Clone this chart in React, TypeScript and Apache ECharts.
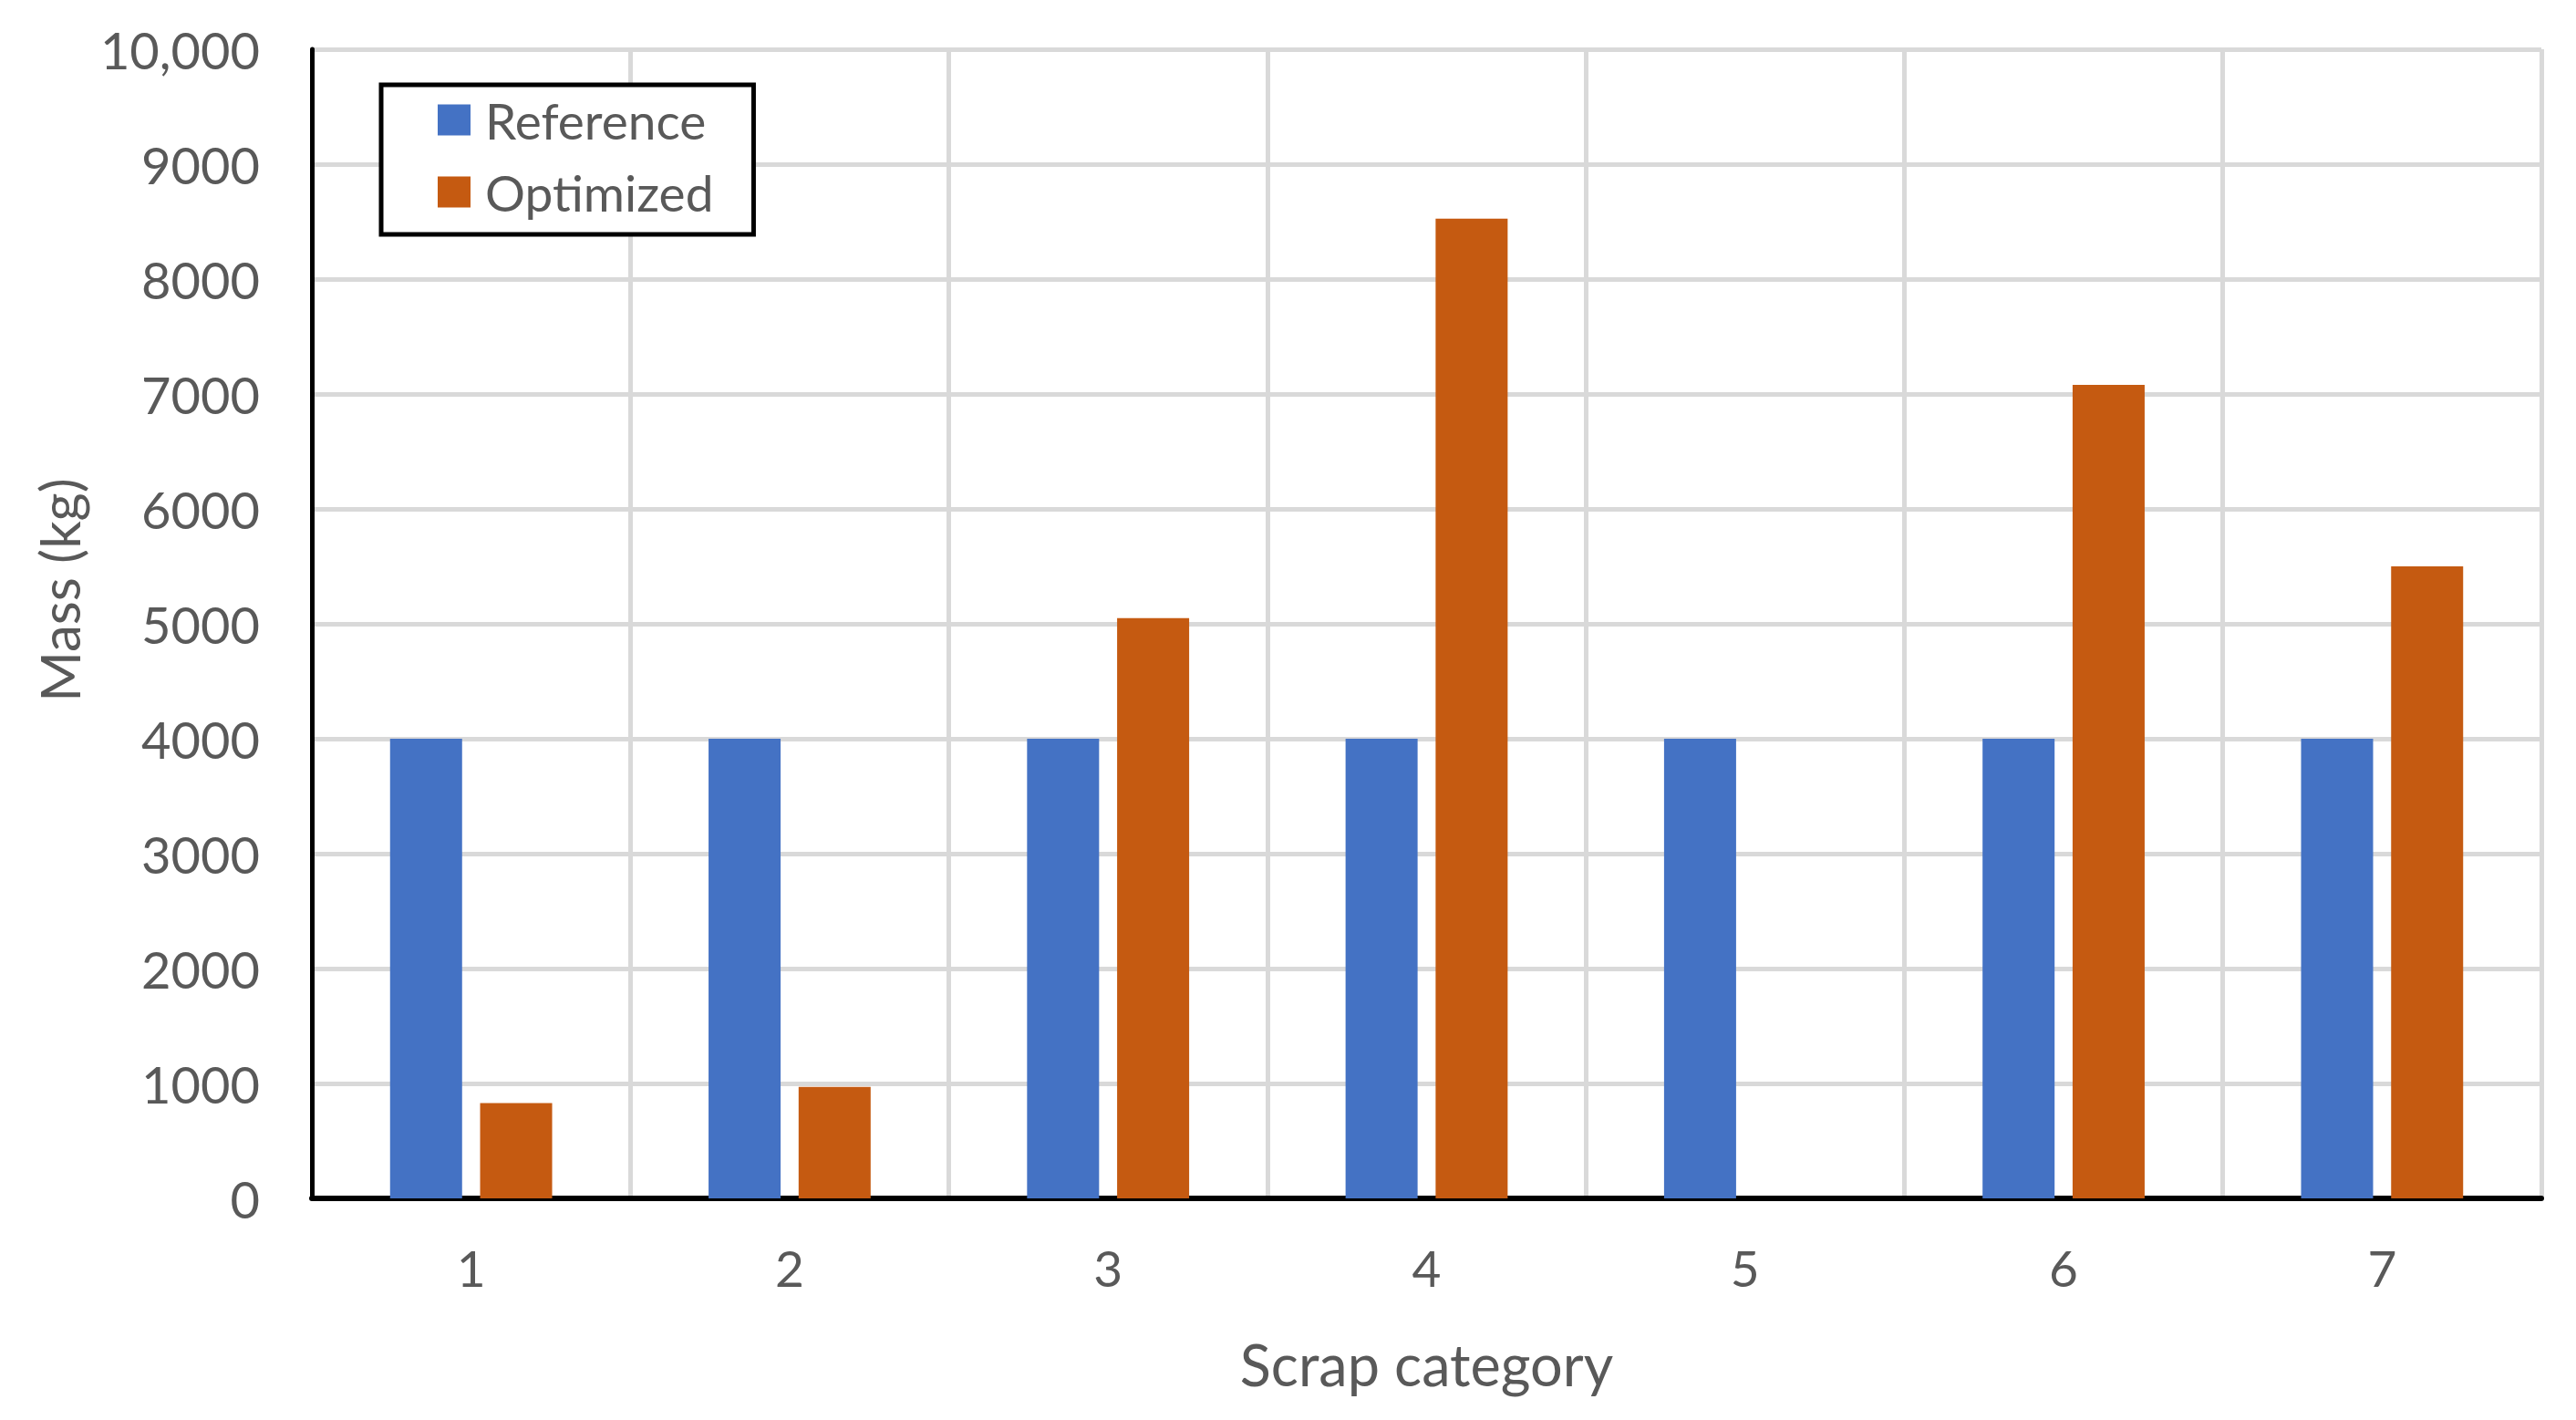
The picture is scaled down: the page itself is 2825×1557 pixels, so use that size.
import React, { useEffect, useRef } from "react";
import * as echarts from "echarts";

const categories = ["1", "2", "3", "4", "5", "6", "7"];
const referenceValues = [4000, 4000, 4000, 4000, 4000, 4000, 4000];
const optimizedValues = [830, 970, 5050, 8525, 0, 7080, 5500];
const seriesNames = ["Reference", "Optimized"];
const yAxisTitle = "Mass (kg)";
const xAxisTitle = "Scrap category";

const FONT = "Lato, 'Open Sans', sans-serif";
const TEXT = "#595959";

export default function App() {
  const ref = useRef<HTMLDivElement>(null);
  useEffect(() => {
    document.body.style.margin = "0";
    const chart = echarts.init(ref.current!, null, { renderer: "svg" });
    chart.setOption({
      animation: false,
      backgroundColor: "#ffffff",
      textStyle: { fontFamily: FONT, color: TEXT },
      grid: { left: 342, top: 54, right: 38, bottom: 243, containLabel: false },
      legend: {
        orient: "vertical",
        left: 418,
        top: 93,
        padding: [11, 44, 19, 62],
        itemWidth: 36,
        itemHeight: 34,
        itemGap: 24,
        icon: "rect",
        backgroundColor: "#ffffff",
        borderColor: "#000000",
        borderWidth: 5,
        borderRadius: 0,
        textStyle: { fontFamily: FONT, fontSize: 55, color: TEXT, lineHeight: 40, padding: [0, 0, 0, 11] },
        data: seriesNames,
      },
      xAxis: {
        type: "category",
        data: categories,
        name: xAxisTitle,
        nameLocation: "middle",
        nameGap: 150,
        nameTextStyle: { fontFamily: FONT, fontSize: 63, color: TEXT },
        axisLine: { show: true, lineStyle: { color: "#000000", width: 6 } },
        axisTick: { show: false },
        axisLabel: { fontFamily: FONT, fontSize: 55, color: TEXT, margin: 48 },
        splitLine: { show: true, lineStyle: { color: "#d9d9d9", width: 5 } },
      },
      yAxis: {
        type: "value",
        min: 0,
        max: 10000,
        interval: 1000,
        axisLine: { show: true, lineStyle: { color: "#000000", width: 5 } },
        axisTick: { show: false },
        axisLabel: {
          fontFamily: FONT,
          fontSize: 56,
          color: TEXT,
          margin: 57,
          formatter: (v: number) => (v === 10000 ? "10,000" : String(v)),
        },
        splitLine: { show: true, lineStyle: { color: "#d9d9d9", width: 5 } },
      },
      graphic: [
        {
          type: "text",
          x: 65,
          y: 647,
          rotation: Math.PI / 2,
          style: {
            text: yAxisTitle,
            fontFamily: FONT,
            fontSize: 60,
            fill: TEXT,
            align: "center",
            verticalAlign: "middle",
          },
        },
      ],
      series: [
        {
          name: seriesNames[0],
          type: "bar",
          data: referenceValues,
          barWidth: 79,
          barGap: "25%",
          itemStyle: { color: "#4472C4" },
        },
        {
          name: seriesNames[1],
          type: "bar",
          data: optimizedValues,
          barWidth: 79,
          barGap: "25%",
          itemStyle: { color: "#C55A11" },
        },
      ],
    });
    return () => chart.dispose();
  }, []);
  return <div ref={ref} style={{ width: 2825, height: 1557 }} />;
}
